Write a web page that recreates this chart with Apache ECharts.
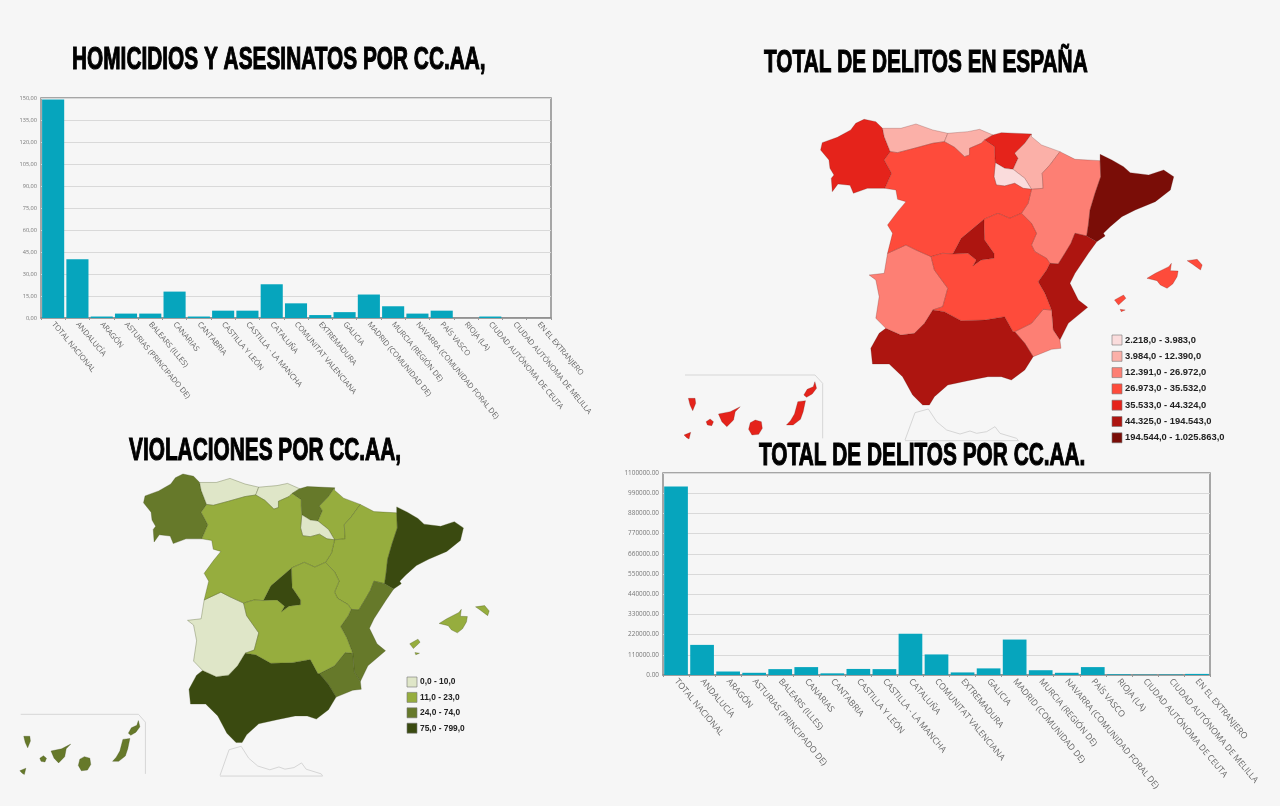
<!DOCTYPE html>
<html>
<head>
<meta charset="utf-8">
<title>Delitos por CC.AA.</title>
<script src="https://cdn.jsdelivr.net/npm/echarts@6/dist/echarts.min.js"></script>
<style>
  html, body { margin: 0; padding: 0; background: #f6f6f6; }
  #chart { width: 1280px; height: 806px; }
</style>
</head>
<body>
<div id="chart"></div>
<script>
var categories = ['TOTAL NACIONAL', 'ANDALUCÍA', 'ARAGÓN', 'ASTURIAS (PRINCIPADO DE)', 'BALEARS (ILLES)', 'CANARIAS',
  'CANTABRIA', 'CASTILLA Y LEÓN', 'CASTILLA - LA MANCHA', 'CATALUÑA', 'COMUNITAT VALENCIANA', 'EXTREMADURA', 'GALICIA',
  'MADRID (COMUNIDAD DE)', 'MURCIA (REGIÓN DE)', 'NAVARRA (COMUNIDAD FORAL DE)', 'PAÍS VASCO', 'RIOJA (LA)',
  'CIUDAD AUTÓNOMA DE CEUTA', 'CIUDAD AUTÓNOMA DE MELILLA', 'EN EL EXTRANJERO'];
var homicidios = [149, 40, 1, 3, 3, 18, 1, 5, 5, 23, 10, 2, 4, 16, 8, 3, 5, 0, 1, 0, 0];
var delitos = [1025863, 164000, 19000, 12000, 32000, 43000, 9000, 33000, 32000, 225000, 112000, 14000, 36000, 193000, 26000, 12000, 43000, 3900, 2218, 2800, 6000];
var violaciones = [799, 147, 21, 8, 15, 50, 9, 22, 18, 185, 70, 9, 40, 130, 26, 14, 30, 5, 0, 0, 0];

var delitosPieces = [
  { min: 2218, max: 3983, label: '2.218,0 - 3.983,0', color: '#fadcdc' },
  { min: 3984, max: 12390, label: '3.984,0 - 12.390,0', color: '#fbb0a8' },
  { min: 12391, max: 26972, label: '12.391,0 - 26.972,0', color: '#fd7f74' },
  { min: 26973, max: 35532, label: '26.973,0 - 35.532,0', color: '#fe4b3b' },
  { min: 35533, max: 44324, label: '35.533,0 - 44.324,0', color: '#e5231b' },
  { min: 44325, max: 194543, label: '44.325,0 - 194.543,0', color: '#ad1510' },
  { min: 194544, max: 1025863, label: '194.544,0 - 1.025.863,0', color: '#7a0d07' }
];
var violacionesPieces = [
  { min: 0, max: 10, label: '0,0 - 10,0', color: '#dfe6c8' },
  { min: 11, max: 23, label: '11,0 - 23,0', color: '#96ad3e' },
  { min: 24, max: 74, label: '24,0 - 74,0', color: '#66792a' },
  { min: 75, max: 799, label: '75,0 - 799,0', color: '#3a4a10' }
];

// contornos del mapa base, no son datos
var regiones = {
  'GALICIA': [[[165,40],[190,28],[225,35],[245,55],[250,80],[268,125],[250,150],[272,190],[252,235],[200,235],[158,250],[148,226],[112,222],[95,245],[92,205],[100,195],[88,175],[85,150],[60,120],[65,98],[110,82],[150,60]]],
  'ASTURIAS (PRINCIPADO DE)': [[[245,55],[300,55],[345,42],[395,60],[440,70],[430,95],[395,100],[340,115],[290,128],[268,125],[250,80]]],
  'CANTABRIA': [[[440,70],[500,65],[535,58],[575,75],[550,90],[540,100],[505,115],[505,135],[490,140],[460,112],[430,95]]],
  'PAÍS VASCO': [[[575,75],[600,68],[690,72],[670,100],[640,130],[650,145],[635,178],[610,175],[582,158],[580,130],[580,110],[550,90]]],
  'NAVARRA (COMUNIDAD FORAL DE)': [[[690,72],[690,80],[720,105],[775,125],[745,165],[722,190],[725,235],[690,238],[670,205],[635,178],[650,145],[640,130],[670,100]]],
  'RIOJA (LA)': [[[582,158],[610,175],[635,178],[670,205],[690,238],[665,235],[640,220],[610,228],[585,225],[578,200]]],
  'ARAGÓN': [[[775,125],[820,148],[895,152],[897,200],[880,250],[865,300],[860,345],[855,378],[820,370],[808,400],[790,430],[770,462],[745,460],[735,445],[700,425],[690,405],[705,370],[690,340],[660,310],[680,280],[690,238],[725,235],[722,190],[745,165]]],
  'CATALUÑA': [[[895,133],[930,150],[965,170],[985,188],[1040,195],[1085,180],[1115,200],[1105,240],[1060,275],[1000,300],[960,320],[925,350],[905,370],[910,378],[885,395],[855,378],[860,345],[865,300],[880,250],[897,200],[895,152]]],
  'COMUNITAT VALENCIANA': [[[820,370],[855,378],[885,395],[860,430],[820,490],[805,520],[830,570],[858,592],[800,640],[775,690],[755,660],[750,600],[730,550],[710,515],[735,480],[745,460],[770,462],[790,430],[808,400]]],
  'MURCIA (REGIÓN DE)': [[[725,598],[750,600],[755,660],[775,690],[778,715],[750,718],[695,740],[670,700],[640,665],[690,640]]],
  'ANDALUCÍA': [[[395,600],[430,605],[480,632],[550,630],[610,620],[635,665],[640,665],[670,700],[695,740],[670,780],[630,810],[600,800],[560,800],[500,812],[440,825],[400,860],[385,885],[365,885],[335,855],[305,800],[265,762],[215,762],[210,715],[235,670],[255,655],[300,675],[340,670],[370,640]]],
  'EXTREMADURA': [[[315,405],[345,420],[390,440],[400,480],[440,535],[425,590],[395,600],[370,640],[340,670],[300,675],[255,655],[225,625],[235,560],[225,510],[205,495],[250,490],[260,430]]],
  'MADRID (COMUNIDAD DE)': [[[548,328],[550,390],[578,430],[578,445],[540,450],[515,468],[525,450],[500,430],[455,432],[480,385]]],
  'CASTILLA Y LEÓN': [[[268,125],[290,128],[340,115],[395,100],[430,95],[460,112],[490,140],[505,135],[505,115],[540,100],[550,90],[580,110],[580,130],[582,158],[578,200],[585,225],[610,228],[640,220],[665,235],[690,238],[680,280],[660,310],[625,325],[590,310],[548,328],[480,385],[455,432],[425,430],[390,440],[345,420],[315,405],[260,430],[275,370],[260,345],[290,305],[315,275],[290,268],[285,240],[252,235],[272,190],[250,150]]],
  'CASTILLA - LA MANCHA': [[[548,328],[590,310],[625,325],[660,310],[690,340],[705,370],[690,405],[700,425],[735,445],[745,460],[735,480],[710,515],[730,550],[750,600],[725,598],[690,640],[640,665],[635,665],[610,620],[550,630],[480,632],[430,605],[395,600],[425,590],[440,535],[400,480],[390,440],[425,430],[455,432],[500,430],[525,450],[515,468],[540,450],[578,445],[578,430],[550,390]]],
  'BALEARS (ILLES)': [
    [[1035,505],[1060,490],[1100,470],[1108,460],[1105,482],[1128,483],[1125,500],[1112,522],[1095,535],[1075,525],[1065,512]],
    [[1155,452],[1185,448],[1200,465],[1195,480],[1170,462]],
    [[938,570],[965,555],[972,565],[950,585]],
    [[955,598],[970,600],[958,605]]
  ],
  'CANARIAS': [
    [[10,855],[20,838],[38,830],[43,815],[48,835],[35,852],[18,862]],
    [[-8,875],[15,872],[8,905],[0,928],[-22,945],[-42,945],[-30,932],[-18,912]],
    [[-150,938],[-135,930],[-117,935],[-114,955],[-125,973],[-145,975],[-155,958]],
    [[-245,912],[-210,905],[-180,890],[-195,905],[-200,930],[-220,950],[-235,935]],
    [[-282,935],[-270,927],[-260,935],[-265,947],[-278,945]],
    [[-335,865],[-315,865],[-313,880],[-322,902],[-330,885]],
    [[-348,975],[-328,967],[-333,987],[-340,983]]
  ]
};
var marcoCanarias = [[-345,795],[45,795],[68,820],[68,985]];
var marcoCeuta = [[315,990],[345,908],[385,897],[410,935],[440,960],[480,972],[510,963],[530,970],[560,965],[585,950],[600,970],[650,985],[655,992],[315,992]];

var geoJson = {
  type: 'FeatureCollection',
  features: Object.keys(regiones).map(function(name) {
    return {
      type: 'Feature',
      properties: { name: name },
      geometry: {
        type: 'MultiPolygon',
        coordinates: regiones[name].map(function(ring) {
          var closed = ring.concat([ring[0]]);
          return [closed.map(function(p) { return [p[0], -p[1]]; })];
        })
      }
    };
  })
};
// dos nombres: dos series con el mismo mapa se fusionan en una sola
echarts.registerMap('espana-delitos', geoJson);
echarts.registerMap('espana-violaciones', geoJson);

function mapData(values) {
  return Object.keys(regiones).map(function(name) {
    return { name: name, value: values[categories.indexOf(name)] };
  });
}

function barParts(index, values, max, interval, sep, fontSize, labelSize) {
  return {
    xAxis: {
      type: 'category', gridIndex: index, data: categories,
      axisLine: { lineStyle: { color: '#8c8c8c', width: 1.5 } },
      axisTick: { show: true, length: 2, lineStyle: { color: '#999' } },
      axisLabel: { interval: 0, rotate: -50, margin: 5, fontSize: labelSize, color: '#666', fontFamily: 'Open Sans' }
    },
    yAxis: {
      type: 'value', gridIndex: index, min: 0, max: max, interval: interval,
      axisLine: { show: false }, axisTick: { show: false },
      splitLine: { lineStyle: { color: '#d9d9d9', width: 1.2 } },
      axisLabel: {
        fontSize: fontSize, color: '#777', margin: 4, fontFamily: 'Open Sans',
        formatter: function(v) { return v.toFixed(2).replace('.', sep); }
      }
    },
    series: {
      type: 'bar', xAxisIndex: index, yAxisIndex: index, data: values,
      barCategoryGap: '9%', itemStyle: { color: '#06a5bd' }, silent: true
    }
  };
}

function titleAt(text, x, y) {
  return {
    type: 'text', z: 60, silent: true, x: x, y: y, scaleX: 0.672,
    style: { text: text, font: 'bold 31px "Liberation Sans"', fill: '#000', stroke: '#000', lineWidth: 1.1,
      textAlign: 'left', textVerticalAlign: 'middle' }
  };
}

function legendOf(pieces, seriesIndex, left, top, gap, size) {
  return {
    type: 'piecewise', seriesIndex: seriesIndex, left: left, top: top, padding: 0, orient: 'vertical', inverse: true, align: 'left',
    pieces: pieces, itemWidth: 10, itemHeight: 10, itemGap: gap, itemSymbol: 'rect', selectedMode: false, showLabel: true,
    textGap: 3, textStyle: { fontFamily: 'Liberation Sans', fontWeight: 'bold', fontSize: size, color: '#222' }
  };
}

function mapSeries(name, values, left, top, width, height, border) {
  return {
    type: 'map', map: name, left: left, top: top, width: width, height: height, roam: false, silent: true,
    label: { show: false }, emphasis: { disabled: true }, select: { disabled: true },
    itemStyle: { borderColor: border, borderWidth: 0.5 },
    data: mapData(values)
  };
}

function insetLines(points, fx, fy) {
  return {
    type: 'polyline', z: 50, silent: true,
    shape: { points: points.map(function(p) { return [fx(p[0]), fy(p[1])]; }) },
    style: { stroke: '#d6d6d6', lineWidth: 1, fill: null }
  };
}

function swatchOutlines(count, left, top, step) {
  var out = [];
  for (var i = 0; i < count; i++) {
    out.push({ type: 'rect', z: 50, silent: true, shape: { x: left, y: top + i * step, width: 10, height: 10 },
      style: { fill: null, stroke: '#777', lineWidth: 0.6 } });
  }
  return out;
}

var redX = function(x) { return 800 + x / 3; };
var redY = function(y) { return 110 + y / 3; };
var greenX = function(x) { return 143 + (x - 60) / 3 * 0.906; };
var greenY = function(y) { return 474 + (y - 28) / 3 * 0.94; };

var bar1 = barParts(0, homicidios, 150, 15, ',', 5.6, 7.6);
var bar2 = barParts(1, delitos, 1100000, 110000, '.', 6.4, 8.6);

var myChart = echarts.init(document.getElementById('chart'));
myChart.setOption({
  backgroundColor: '#f6f6f6',
  animation: false,
  grid: [
    { left: 41, top: 98, width: 510, height: 220, show: true, borderColor: '#8c8c8c', borderWidth: 1.5 },
    { left: 663, top: 473, width: 547, height: 202, show: true, borderColor: '#8c8c8c', borderWidth: 1.5 }
  ],
  xAxis: [bar1.xAxis, bar2.xAxis],
  yAxis: [bar1.yAxis, bar2.yAxis],
  visualMap: [
    legendOf(delitosPieces, 2, 1112, 335, 6.3, 9.4),
    legendOf(violacionesPieces, 3, 407, 677, 5.4, 8.4)
  ],
  series: [
    bar1.series,
    bar2.series,
    mapSeries('espana-delitos', delitos, 684, 119.3, 518.2, 319.7, 'rgba(90,20,15,0.45)'),
    mapSeries('espana-violaciones', violaciones, 19.8, 474, 469.4, 300.5, 'rgba(60,75,20,0.6)')
  ],
  graphic: [
    titleAt('HOMICIDIOS Y ASESINATOS POR CC.AA,', 72, 60.5),
    titleAt('TOTAL DE DELITOS EN ESPAÑA', 764, 63),
    titleAt('VIOLACIONES POR CC.AA,', 129, 451),
    titleAt('TOTAL DE DELITOS POR CC.AA.', 759, 456),
    insetLines(marcoCanarias, redX, redY),
    insetLines(marcoCeuta, redX, redY),
    insetLines(marcoCanarias, greenX, greenY),
    insetLines(marcoCeuta, greenX, greenY)
  ].concat(swatchOutlines(7, 1112, 335, 16.3), swatchOutlines(4, 407, 677, 15.4))
});
</script>
</body>
</html>
